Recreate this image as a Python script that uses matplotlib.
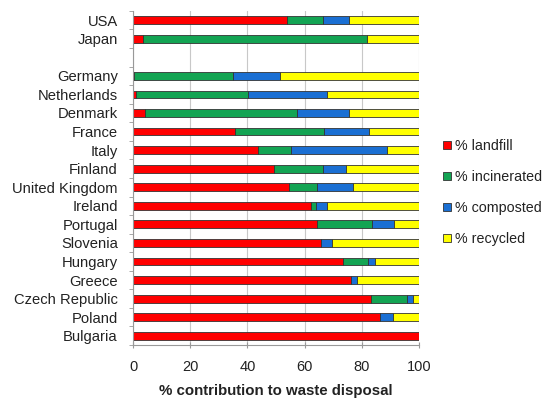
import numpy as np
import matplotlib
matplotlib.use("Agg")
import matplotlib.pyplot as plt

plt.rcParams['font.family'] = ['Liberation Sans', 'DejaVu Sans']

# Data
countries = ['USA', 'Japan', 'Germany', 'Netherlands', 'Denmark', 'France', 'Italy',
             'Finland', 'United Kingdom', 'Ireland', 'Portugal', 'Slovenia', 'Hungary',
             'Greece', 'Czech Republic', 'Poland', 'Bulgaria']
landfill    = [54.0, 3.5, 0.5, 1.0, 4.3, 35.6, 43.8, 49.2, 54.5, 62.2, 64.2, 65.9, 73.5, 76.4, 83.1, 86.3, 100.0]
incinerated = [12.5, 78.5, 34.5, 39.3, 53.2, 31.1, 11.4, 17.3, 9.7, 1.7, 19.2, 0.0, 8.8, 0.0, 12.8, 0.0, 0.0]
composted   = [9.0, 0.0, 16.3, 27.4, 18.1, 15.8, 33.5, 7.9, 12.6, 4.0, 8.0, 3.8, 2.3, 2.1, 1.9, 4.7, 0.0]
recycled    = [24.5, 18.0, 48.7, 32.3, 24.4, 17.5, 11.3, 25.6, 23.2, 32.1, 8.6, 30.3, 15.4, 21.5, 2.2, 9.0, 0.0]

series = [('% landfill', landfill, '#ff0000'),
          ('% incinerated', incinerated, '#13a453'),
          ('% composted', composted, '#1a6fd3'),
          ('% recycled', recycled, '#ffff00')]

# one empty slot between Japan and Germany
pos = np.array([i if i < 2 else i + 1 for i in range(len(countries))])

fig = plt.figure(figsize=(5.52, 4.04), dpi=100)
ax = fig.add_axes([0.241, 0.146, 0.518, 0.827])

left = np.zeros(len(countries))
handles = []
for name, vals, col in series:
    vals = np.array(vals)
    b = ax.barh(pos, vals, left=left, height=0.42, color=col,
                edgecolor='#333333', linewidth=0.6, label=name)
    handles.append(b)
    left += vals

ax.set_xlim(0, 100)
ax.set_ylim(pos.max() + 0.5, -0.5)
ax.set_yticks(pos)
ax.set_yticklabels(countries, fontsize=10.6, color='#222222')
ax.set_yticks(np.arange(-0.5, pos.max() + 1, 1), minor=True)
ax.tick_params(axis='y', which='major', length=0, pad=11)
ax.tick_params(axis='y', which='minor', length=3, color='#999999')
ax.set_xticks([0, 20, 40, 60, 80, 100])
ax.tick_params(axis='x', labelsize=10.5, labelcolor='#222222', length=4,
               color='#999999', direction='inout', pad=9)
ax.set_xlabel('% contribution to waste disposal', fontsize=10.8, fontweight='bold',
              labelpad=7, color='#222222')

ax.grid(axis='x', color='#c8c8c8', linewidth=0.8)
ax.set_axisbelow(True)
for s in ['top', 'right']:
    ax.spines[s].set_visible(False)
for s in ['left', 'bottom']:
    ax.spines[s].set_color('#999999')

fig.legend(handles=handles, loc='upper left', bbox_to_anchor=(0.78, 0.688),
           frameon=False, fontsize=10.3, handlelength=0.5, handleheight=0.5,
           handletextpad=0.3, labelspacing=1.2, labelcolor='#222222')

fig.savefig('out.png', dpi=100)
